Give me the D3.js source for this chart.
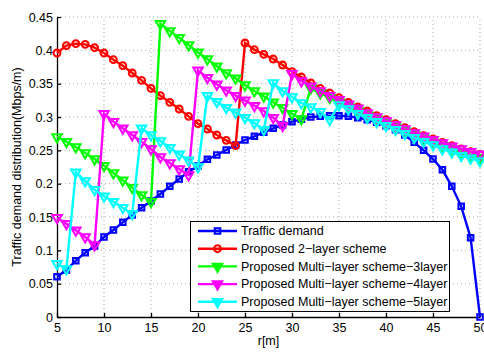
<!DOCTYPE html>
<html>
<head>
<meta charset="utf-8">
<script src="https://cdn.jsdelivr.net/npm/d3@7"></script>
<style>
  body { margin: 0; background: #fff; }
  text { font-family: "Liberation Sans", Arial, sans-serif; }
</style>
</head>
<body>
<svg id="chart" width="484" height="352"></svg>
<script>
// r positions (m)
var rVals = [5,6,7,8,9,10,11,12,13,14,15,16,17,18,19,20,21,22,23,24,25,26,27,
  28,29,30,31,32,33,34,35,36,37,38,39,40,41,42,43,44,45,46,47,48,49,50];

// series
var traffic = [0.0605,0.0705,0.0845,0.0965,0.1065,0.120,0.1305,0.142,0.153,0.164,0.174,
  0.1845,0.196,0.207,0.218,0.2265,0.2365,0.243,0.2505,0.258,0.2655,0.271,0.277,0.283,
  0.288,0.293,0.2965,0.300,0.301,0.302,0.302,0.301,0.299,0.296,0.292,0.287,0.281,0.273,
  0.262,0.250,0.237,0.221,0.196,0.166,0.119,0];
var layer2 = [0.396,0.407,0.410,0.409,0.404,0.396,0.386,0.377,0.366,0.355,0.343,0.332,
  0.322,0.312,0.301,0.290,0.282,0.273,0.265,0.257,
  0.411,0.401,0.394,0.387,0.378,0.368,0.360,0.351,0.343,0.336,0.329,0.322,0.315,0.309,
  0.302,0.296,0.290,0.284,0.278,0.272,0.267,0.262,0.257,0.252,0.248,0.244];
var layer3 = [0.270,0.263,0.255,0.246,0.237,0.227,0.216,0.205,0.194,0.183,0.173,
  0.440,0.429,0.419,0.408,0.397,0.387,0.376,0.366,0.358,0.348,0.339,0.331,0.322,0.314,
  0.305,0.297,
  0.343,0.336,0.329,0.322,0.316,0.309,0.303,0.297,0.291,0.285,0.279,0.273,0.268,0.262,
  0.257,0.252,0.247,0.243,0.239];
var layer4 = [0.149,0.140,0.130,0.120,0.108,
  0.305,0.293,0.283,0.273,0.263,0.252,0.240,0.231,0.222,0.213,
  0.370,0.359,0.349,0.340,0.332,0.325,0.317,0.309,0.299,0.287,
  0.365,0.354,0.346,0.339,0.332,0.326,0.319,0.313,0.306,0.300,0.294,0.288,0.282,0.276,
  0.271,0.266,0.261,0.256,0.252,0.248,0.244];
var layer5 = [0.080,0.072,
  0.217,0.204,0.191,0.181,0.173,0.164,0.155,
  0.283,0.273,0.264,0.254,0.244,0.235,0.225,
  0.332,0.323,0.314,0.307,0.299,0.291,0.281,
  0.351,0.339,0.330,0.321,0.315,0.308,0.296,
  0.318,0.312,0.305,0.299,0.293,0.287,0.281,0.275,0.269,0.263,0.258,0.252,0.247,0.242,
  0.238,0.234];

var seriesNames = ["Traffic demand", "Proposed 2\u2212layer scheme",
  "Proposed Multi\u2212layer scheme\u22123layer", "Proposed Multi\u2212layer scheme\u22124layer",
  "Proposed Multi\u2212layer scheme\u22125layer"];
var seriesColors = ["#0000ff", "#ff0000", "#00ff00", "#ff00ff", "#00ffff"];
var seriesMarkers = ["square", "circle", "tri", "tri", "tri"];
var seriesValues = [traffic, layer2, layer3, layer4, layer5];

var xTicks = [5,10,15,20,25,30,35,40,45,50];
var yTicks = [0,0.05,0.1,0.15,0.2,0.25,0.3,0.35,0.4,0.45];
var yTickLabels = ["0","0.05","0.1","0.15","0.2","0.25","0.3","0.35","0.4","0.45"];

(function () {
  var svg = d3.select("#chart");
  var pLeft = 57, pRight = 480, pTop = 17, pBottom = 317;

  var x = d3.scaleLinear().domain([5, 50]).range([pLeft, pRight]);
  var y = d3.scaleLinear().domain([0, 0.45]).range([pBottom, pTop]);

  // dotted grid
  var grid = svg.append("g");
  grid.selectAll(".gx").data(xTicks.slice(1)).enter().append("line")
    .attr("x1", function (d) { return x(d) }).attr("x2", function (d) { return x(d) })
    .attr("y1", pBottom).attr("y2", pTop)
    .attr("stroke", "#aaa").attr("stroke-width", 1).attr("stroke-dasharray", "1,3");
  grid.selectAll(".gy").data(yTicks.slice(1)).enter().append("line")
    .attr("x1", pLeft).attr("x2", pRight)
    .attr("y1", function (d) { return y(d) }).attr("y2", function (d) { return y(d) })
    .attr("stroke", "#aaa").attr("stroke-width", 1).attr("stroke-dasharray", "1,3");

  // axes, ticks pointing inward
  var xAxis = svg.append("g").attr("transform", "translate(0," + pBottom + ")")
    .call(d3.axisBottom(x).tickValues(xTicks).tickSize(-4).tickSizeOuter(0).tickPadding(6));
  var yAxis = svg.append("g").attr("transform", "translate(" + pLeft + ",0)")
    .call(d3.axisLeft(y).tickValues(yTicks).tickSize(-4).tickSizeOuter(0).tickPadding(4)
      .tickFormat(function (d, i) { return yTickLabels[i] }));
  [xAxis, yAxis].forEach(function (a) {
    a.selectAll("path, line").attr("stroke", "#000").attr("stroke-width", 1.3);
    a.selectAll("text").attr("fill", "#000").style("font-size", "12.5px")
      .style("font-family", "'Liberation Sans', Arial, sans-serif");
  });

  // axis labels
  svg.append("text").attr("x", (pLeft + pRight) / 2).attr("y", 345)
    .attr("text-anchor", "middle").style("font-size", "12.5px").text("r[m]");
  svg.append("text").attr("transform", "translate(21," + (pTop + pBottom) / 2 + ") rotate(-90)")
    .attr("text-anchor", "middle").style("font-size", "12.5px")
    .text("Traffic demand distribution(Mbps/m)");

  function markerPath(kind) {
    if (kind === "square") return d3.symbol().type(d3.symbolSquare).size(30)();
    if (kind === "circle") return d3.symbol().type(d3.symbolCircle).size(36)();
    return d3.symbol().type(d3.symbolTriangle).size(38)();
  }
  function markerTransform(kind, px, py) {
    var t = "translate(" + px + "," + py + ")";
    return kind === "tri" ? t + " rotate(180)" : t;
  }

  var line = d3.line()
    .x(function (d) { return x(d.r) })
    .y(function (d) { return y(d.v) });

  seriesValues.forEach(function (vals, s) {
    var pts = rVals.map(function (r, i) { return { r: r, v: vals[i] } });
    var g = svg.append("g");
    g.append("path").datum(pts)
      .attr("fill", "none").attr("stroke", seriesColors[s]).attr("stroke-width", 2.4)
      .attr("d", line);
    g.selectAll("path.mk").data(pts).enter().append("path").attr("class", "mk")
      .attr("d", markerPath(seriesMarkers[s]))
      .attr("transform", function (d) { return markerTransform(seriesMarkers[s], x(d.r), y(d.v)) })
      .attr("fill", "none").attr("stroke", seriesColors[s]).attr("stroke-width", 2.1);
  });

  // legend
  var lg = svg.append("g");
  lg.append("rect").attr("x", 190.5).attr("y", 221.5).attr("width", 259).attr("height", 90)
    .attr("fill", "#fff").attr("stroke", "#000").attr("stroke-width", 1);
  seriesNames.forEach(function (name, s) {
    var cy = 231 + s * 17.7;
    lg.append("line").attr("x1", 198).attr("x2", 237).attr("y1", cy).attr("y2", cy)
      .attr("stroke", seriesColors[s]).attr("stroke-width", 2.4);
    lg.append("path").attr("d", markerPath(seriesMarkers[s]))
      .attr("transform", markerTransform(seriesMarkers[s], 217.5, cy))
      .attr("fill", seriesMarkers[s] === "tri" ? seriesColors[s] : "none")
      .attr("stroke", seriesColors[s]).attr("stroke-width", 2.1);
    lg.append("text").attr("x", 241).attr("y", cy).attr("dy", "0.35em")
      .style("font-size", "12.5px").text(name);
  });
})();
</script>
</body>
</html>
